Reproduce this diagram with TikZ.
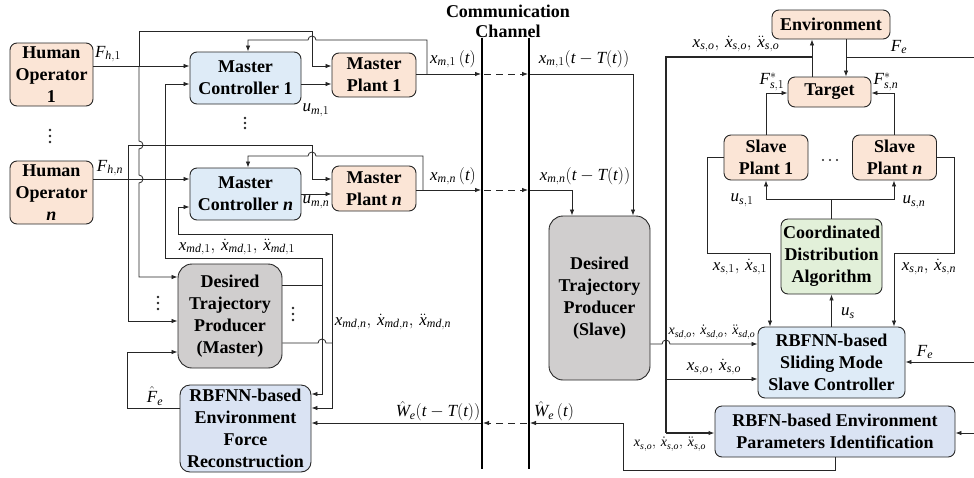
\documentclass[tikz,border=0pt]{standalone}
\usepackage{fontspec}
\setmainfont{Liberation Serif}
\newfontfamily\libit{Liberation Serif}[NFSSFamily=libser]
\DeclareSymbolFont{lettersx}{TU}{libser}{m}{it}
\DeclareMathSymbol{x}{\mathalpha}{lettersx}{`x}
\DeclareMathSymbol{F}{\mathalpha}{lettersx}{`F}
\DeclareMathSymbol{h}{\mathalpha}{lettersx}{`h}
\DeclareMathSymbol{u}{\mathalpha}{lettersx}{`u}
\DeclareMathSymbol{m}{\mathalpha}{lettersx}{`m}
\DeclareMathSymbol{d}{\mathalpha}{lettersx}{`d}
\DeclareMathSymbol{s}{\mathalpha}{lettersx}{`s}
\DeclareMathSymbol{o}{\mathalpha}{lettersx}{`o}
\DeclareMathSymbol{n}{\mathalpha}{lettersx}{`n}
\DeclareMathSymbol{e}{\mathalpha}{lettersx}{`e}
\DeclareMathSymbol{t}{\mathalpha}{lettersx}{`t}
\DeclareMathSymbol{T}{\mathalpha}{lettersx}{`T}
\DeclareMathSymbol{W}{\mathalpha}{lettersx}{`W}
\usetikzlibrary{arrows.meta}
\definecolor{cor}{HTML}{FBE5D6}
\definecolor{cbl}{HTML}{DEEBF7}
\definecolor{cbl2}{HTML}{DAE3F3}
\definecolor{cgr}{HTML}{D0CECE}
\definecolor{cgn}{HTML}{E2F0D9}
\definecolor{ln}{HTML}{262626}
\newcommand\mydots[3]{\fill[ln] (#1,#2-#3) circle[radius=1.3pt] (#1,#2) circle[radius=1.3pt] (#1,#2+#3) circle[radius=1.3pt];}
\begin{document}
\begin{tikzpicture}[x=1pt,y=-1pt,
  box/.style={draw=ln, line width=0.9pt, rounded corners=7pt, align=center, inner sep=1pt, font=\bfseries\fontsize{18}{22}\selectfont},
  lab/.style={inner sep=0pt, font=\fontsize{17}{19}\selectfont},
  slab/.style={inner sep=0pt, font=\fontsize{14}{16}\selectfont},
  con/.style={draw=ln, line width=0.8pt},
  arr/.style={con, -{Latex[length=6pt,width=4.5pt]}},
  dashpat/.style={dash pattern=on 7pt off 5pt},
  bus/.style={draw=ln, line width=1.8pt},
  chan/.style={draw=black, line width=2.6pt},
]
\useasboundingbox (0,0) rectangle (974,477);

% ---------- nodes ----------
\node[box, fill=cor, minimum width=83pt, minimum height=63pt] (ho1) at (51.5,74.5) {Human\\Operator\\1};
\node[box, fill=cor, minimum width=83pt, minimum height=63pt] (hon) at (51.5,192.5) {Human\\Operator\\\textit{n}};
\node[box, fill=cbl, minimum width=111pt, minimum height=52pt] (mc1) at (245.5,78) {Master\\Controller 1};
\node[box, fill=cbl, minimum width=111pt, minimum height=52pt] (mcn) at (245.5,194) {Master\\Controller \textit{n}};
\node[box, fill=cor, minimum width=84pt, minimum height=44pt] (mp1) at (374,75) {Master\\Plant 1};
\node[box, fill=cor, minimum width=84pt, minimum height=45pt] (mpn) at (374,188.5) {Master\\Plant \textit{n}};
\node[box, fill=cgr, rounded corners=14pt, minimum width=104pt, minimum height=104pt] (dtpm) at (230,316) {Desired\\Trajectory\\Producer\\(Master)};
\node[box, fill=cbl2, rounded corners=10pt, minimum width=131pt, minimum height=87pt] (rbfm) at (245.5,428.5) {RBFNN-based\\Environment\\Force\\Reconstruction};
\node[box, fill=cgr, rounded corners=14pt, minimum width=101pt, minimum height=164pt] (dtps) at (599.5,298) {Desired\\Trajectory\\Producer\\(Slave)};
\node[box, fill=cor, minimum width=118pt, minimum height=29pt] (env) at (831,24.5) {Environment};
\node[box, fill=cor, minimum width=83pt, minimum height=30pt] (tgt) at (829.5,92) {Target};
\node[box, fill=cor, minimum width=84pt, minimum height=45pt] (sp1) at (766,157.5) {Slave\\Plant 1};
\node[box, fill=cor, minimum width=84pt, minimum height=45pt] (spn) at (894.5,157.5) {Slave\\Plant \textit{n}};
\node[box, fill=cgn, minimum width=101pt, minimum height=75pt] (cda) at (831.5,256.5) {Coordinated\\Distribution\\Algorithm};
\node[box, fill=cbl, minimum width=147pt, minimum height=71pt] (ssc) at (831.5,362.5) {RBFNN-based\\Sliding Mode\\Slave Controller};
\node[box, fill=cbl2, minimum width=240pt, minimum height=51pt] (rid) at (835,431.5) {RBFN-based Environment\\Parameters Identification};

\node[font=\bfseries\fontsize{18}{20}\selectfont, align=center, inner sep=0pt] (title) at (508,21) {Communication\\Channel};

% ---------- communication channel ----------
\coordinate (c1t) at (482,38); \coordinate (c1b) at (482,469);
\coordinate (c2t) at (529,38); \coordinate (c2b) at (529,469);
\draw[chan] (c1t) -- (c1b);
\draw[chan] (c2t) -- (c2b);

% ---------- master side ----------
\draw[arr] (ho1.east |- 0,66) -- (mc1.west |- 0,66);
\draw[arr] (hon.east |- 0,179) -- (mcn.west |- 0,179);

\coordinate (j1) at (139,66);
\draw[arr] (j1) -- (139,31) -- (312,31) -- (312,66) -- (mp1.west |- 0,66);
\draw[arr] (j1) -- (139,141) arc[start angle=90,end angle=-90,radius=4pt] -- (139,175) arc[start angle=90,end angle=-90,radius=4pt] -- (139,277) -- (dtpm.west |- 0,277);

\coordinate (jn) at (128,179);
\draw[arr] (jn) -- (128,145) -- (312,145) -- (312,179) -- (mpn.west |- 0,179);
\draw[arr] (jn) -- (128,321) -- (dtpm.west |- 0,321);

\draw[arr] (mc1.east |- 0,84) -- (mp1.west |- 0,84);
\draw[arr] (mcn.east |- 0,194) -- (mpn.west |- 0,194);

\draw[arr] (mp1.east |- 0,74) -- (481,74);
\draw[arr] (mpn.east |- 0,190) -- (481,190);
\draw[arr] (427,74) -- (427,40) -- (316,40) arc[start angle=0,end angle=180,radius=4pt] -- (248,40) -- (mc1.north -| 248,0);
\draw[arr] (423,190) -- (423,156) -- (316,156) arc[start angle=0,end angle=180,radius=4pt] -- (248,156) -- (mcn.north -| 248,0);

\draw[arr, dashpat] (484,74) -- (528,74);
\draw[arr, dashpat] (484,190) -- (528,190);
\draw[arr, dashpat] (527,423) -- (483,423);

\draw[arr] (530,74) -- (633,74) -- (dtps.north -| 633,0);
\draw[arr] (530,190) -- (572,190) -- (dtps.north -| 572,0);

\coordinate (d1) at (322,285);
\draw[con] (dtpm.east |- d1) -- (d1);
\draw[arr] (d1) -- (322,258) -- (165,258) -- (165,84) -- (mc1.west |- 0,84);
\draw[arr] (d1) -- (322,394) -- (rbfm.east |- 0,394);
\coordinate (d2) at (332,343);
\draw[con] (dtpm.east |- d2) -- (318,343) arc[start angle=180,end angle=0,radius=4pt] -- (d2);
\draw[arr] (d2) -- (332,234) -- (178,234) -- (178,207) -- (mcn.west |- 0,207);
\draw[arr] (d2) -- (332,408) -- (rbfm.east |- 0,408);

\draw[arr] (rbfm.west |- 0,408) -- (127,408) -- (127,352) -- (dtpm.west |- 0,352);

\draw[arr] (rid.south -| 835,0) -- (835,470) -- (623,470) -- (623,423) -- (530,423);
\draw[arr] (481,423) -- (rbfm.east |- 0,423);

% ---------- slave side ----------
\draw[bus] (812,57) -- (666,57) -- (666,433);
\draw[arr, line width=1.6pt] (666,433) -- (rid.west |- 0,433);
\draw[arr] (666,379) -- (ssc.west |- 0,379);
\draw[arr] (dtps.east |- 0,344) -- (662,344) arc[start angle=180,end angle=0,radius=4pt] -- (ssc.west |- 0,344);
\draw[arr] (tgt.north -| 812,0) -- (env.south -| 812,0);
\draw[arr] (env.south -| 846,0) -- (tgt.north -| 846,0);
\coordinate (fe1) at (974,57);
\draw[con] (846,57) -- (fe1);
\coordinate (fe2) at (974,362);
\draw[arr] (fe2) -- (ssc.east |- fe2);
\coordinate (fe3) at (974,433);
\draw[arr] (fe3) -- (rid.east |- fe3);

\draw[arr] (sp1.north -| 766,0) -- (766,93) -- (tgt.west |- 0,93);
\draw[arr] (spn.north -| 894,0) -- (894,93) -- (tgt.east |- 0,93);

\coordinate (cd) at (831.5,199);
\draw[con] (cda.north) -- (cd);
\draw[arr] (cd) -- (766,199) -- (sp1.south -| 766,0);
\draw[arr] (cd) -- (894,199) -- (spn.south -| 894,0);
\draw[arr] (sp1.west |- 0,157) -- (707,157) -- (707,253) -- (770,253) -- (ssc.north -| 770,0);
\draw[arr] (spn.east |- 0,157) -- (954,157) -- (954,253) -- (894,253) -- (ssc.north -| 894,0);
\draw[arr] (ssc.north) -- (cda.south);

% ---------- dots ----------
\mydots{50}{136}{6}
\mydots{245}{123}{5}
\mydots{158}{303}{6}
\mydots{293}{314}{6}
\fill[ln] (823,160) circle[radius=1.2pt] (830,160) circle[radius=1.2pt] (837,160) circle[radius=1.2pt];

% ---------- labels ----------
\node[lab] (l1) at (108,54) {$F_{h,1}$};
\node[lab] (l2) at (110,168) {$F_{h,n}$};
\node[lab] (l3) at (316,110) {$u_{m,1}$};
\node[lab] (l4) at (316,202) {$u_{m,n}$};
\node[lab] (l5) at (453,59) {$x_{m,1}\left(t\right)$};
\node[lab] (l6) at (584,59) {$x_{m,1}\big(t-T(t)\big)$};
\node[lab] (l7) at (453,176) {$x_{m,n}\left(t\right)$};
\node[lab] (l8) at (585,176) {$x_{m,n}\big(t-T(t)\big)$};
\node[lab] (l9) at (237,247) {$x_{md,1},\,\dot{x}_{md,1},\,\ddot{x}_{md,1}$};
\node[lab] (l10) at (393,322) {$x_{md,n},\,\dot{x}_{md,n},\,\ddot{x}_{md,n}$};
\node[lab] (l11) at (155,396) {$\hat{F}_e$};
\node[lab] (l12) at (438,411) {$\hat{W}_e\big(t-T(t)\big)$};
\node[lab] (l13) at (554,411) {$\hat{W}_e\left(t\right)$};
\node[lab] (l14) at (736,44) {$x_{s,o},\,\dot{x}_{s,o},\,\ddot{x}_{s,o}$};
\node[lab] (l15) at (899,47) {$F_e$};
\node[lab] (l16) at (772,82) {$F^{*}_{s,1}$};
\node[lab] (l17) at (886,82) {$F^{*}_{s,n}$};
\node[lab] (l18) at (742,200) {$u_{s,1}$};
\node[lab] (l19) at (914,202) {$u_{s,n}$};
\node[lab] (l20) at (740,267) {$x_{s,1},\,\dot{x}_{s,1}$};
\node[lab] (l21) at (929,267) {$x_{s,n},\,\dot{x}_{s,n}$};
\node[lab] (l22) at (848,313) {$u_s$};
\node[slab] (l23) at (712,332) {$x_{sd,o},\,\dot{x}_{sd,o},\,\ddot{x}_{sd,o}$};
\node[lab] (l24) at (714,367) {$x_{s,o},\,\dot{x}_{s,o}$};
\node[slab] (l25) at (670,444) {$x_{s,o},\,\dot{x}_{s,o},\,\ddot{x}_{s,o}$};
\node[lab] (l26) at (925,352) {$F_e$};
\end{tikzpicture}
\end{document}
